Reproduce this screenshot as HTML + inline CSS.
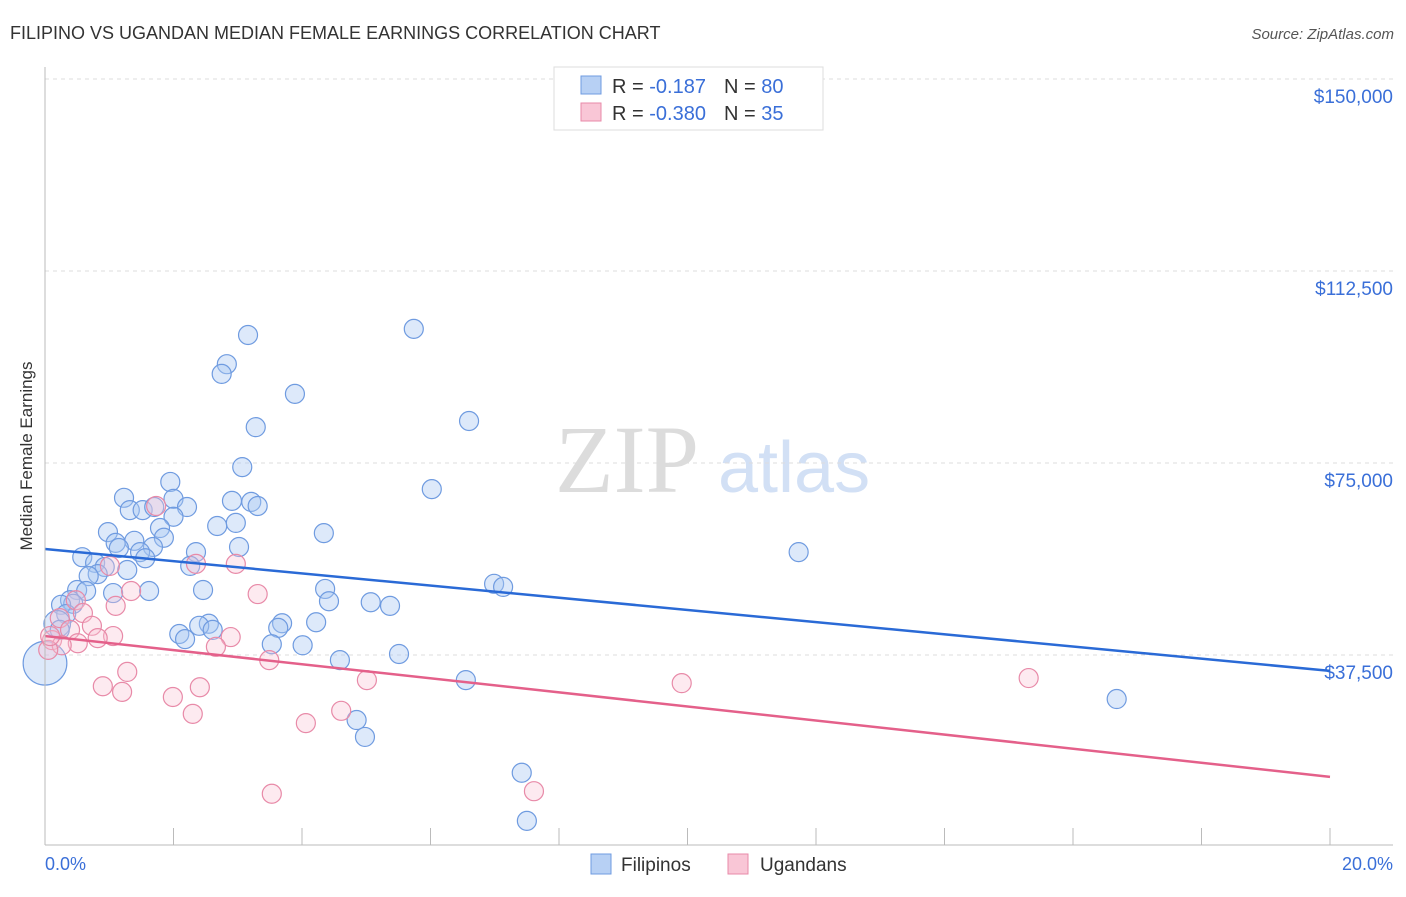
<!DOCTYPE html>
<html><head><meta charset="utf-8"><style>
body{margin:0;background:#fff;font-family:"Liberation Sans",sans-serif}
</style></head><body>
<svg id="c" width="1406" height="892" xmlns="http://www.w3.org/2000/svg" style="font-family:'Liberation Sans',sans-serif">
<text x="10" y="39" font-size="18" fill="#333">FILIPINO VS UGANDAN MEDIAN FEMALE EARNINGS CORRELATION CHART</text>
<text x="1394" y="39" font-size="15" fill="#555" text-anchor="end" font-style="italic">Source: ZipAtlas.com</text>
<text x="555" y="492" font-size="96" fill="#dcdcdc" font-family="Liberation Serif,serif">ZIP</text>
<text x="718" y="492" font-size="72" fill="#d2e0f5">atlas</text>
<g id="grid"></g><g id="pts"></g><g id="lines"></g>
<line x1="45" y1="67" x2="45" y2="845" stroke="#bbb"/>
<line x1="45" y1="845" x2="1393" y2="845" stroke="#bbb"/>
<text x="32" y="456" font-size="17" fill="#333" text-anchor="middle" transform="rotate(-90 32 456)">Median Female Earnings</text>
<text x="45" y="870" font-size="18" fill="#3a6fd8">0.0%</text>
<text x="1393" y="870" font-size="18" fill="#3a6fd8" text-anchor="end">20.0%</text>
<g>
<rect x="554" y="67" width="269" height="63" fill="#fff" stroke="#ddd"/>
<rect x="581" y="76" width="20" height="18" fill="#b7d0f4" stroke="#6f9be0"/>
<rect x="581" y="103" width="20" height="18" fill="#f9c6d6" stroke="#e88aa8"/>
<text x="612" y="93" font-size="20" fill="#333">R = <tspan fill="#3a6fd8">-0.187</tspan><tspan dx="18">N = </tspan><tspan fill="#3a6fd8">80</tspan></text>
<text x="612" y="120" font-size="20" fill="#333">R = <tspan fill="#3a6fd8">-0.380</tspan><tspan dx="18">N = </tspan><tspan fill="#3a6fd8"> 35</tspan></text>
</g>
<g>
<rect x="591" y="854" width="20" height="20" fill="#b7d0f4" stroke="#6f9be0"/>
<text x="621" y="871" font-size="19" fill="#333">Filipinos</text>
<rect x="728" y="854" width="20" height="20" fill="#f9c6d6" stroke="#e88aa8"/>
<text x="760" y="871" font-size="19" fill="#333">Ugandans</text>
</g>
</svg>
<script>
const yTicks=[37500,75000,112500,150000];
const yTickLabels=["$37,500","$75,000","$112,500","$150,000"];
const xTicks=[0,2,4,6,8,10,12,14,16,18,20];
const blueX=[3.16,5.74,2.83,2.75,3.89,3.28,6.60,3.07,6.02,1.95,1.23,2.00,2.91,3.21,3.31,1.32,1.52,1.70,2.21,2.00,2.97,2.68,1.79,0.98,1.85,4.34,1.10,1.39,1.15,1.68,3.02,1.48,2.35,0.58,1.56,11.73,0.78,2.26,0.93,1.28,0.82,0.68,6.99,7.13,4.36,0.50,0.64,1.62,2.46,1.06,0.39,4.42,0.44,5.07,5.37,0.25,0.33,4.22,3.69,2.55,2.40,3.63,2.61,2.09,2.18,0.19,0.23,3.53,4.01,5.51,4.59,0.0,6.55,16.68,4.85,4.98,7.42,7.50];
const blueY=[100.0,101.2,94.3,92.4,88.5,82.0,83.2,74.2,69.9,71.3,68.2,68.0,67.6,67.4,66.6,65.8,65.8,66.4,66.4,64.5,63.3,62.7,62.3,61.5,60.4,61.3,59.4,59.8,58.4,58.6,58.6,57.6,57.6,56.6,56.4,57.6,55.5,54.9,54.7,54.1,53.3,52.9,51.4,50.8,50.4,50.2,50.0,50.0,50.2,49.6,48.2,48.0,47.5,47.8,47.1,47.3,45.5,43.9,43.7,43.6,43.2,42.8,42.4,41.6,40.6,43.6,42.4,39.6,39.4,37.7,36.5,35.9,32.6,28.9,24.8,21.5,14.5,5.1];
const blueSize=blueX.map((x,i)=> i===71?2.3:(i===65?1.4:1));
const pinkX=[1.73,2.35,2.97,1.01,1.34,3.31,0.48,1.10,0.59,0.23,0.73,0.39,1.06,0.82,2.89,0.11,0.51,0.26,2.66,0.05,3.49,1.28,5.01,15.31,9.91,0.90,2.41,1.20,1.99,4.61,2.30,4.06,7.61,3.53,0.08];
const pinkY=[66.6,55.3,55.3,54.9,50.0,49.4,48.2,47.1,45.7,44.7,43.2,42.4,41.2,40.8,41.0,40.4,39.8,39.4,39.1,38.5,36.5,34.2,32.6,33.0,32.0,31.4,31.2,30.3,29.3,26.6,26.0,24.2,10.9,10.4,41.2];
const blueTrend=[58.2,34.4];
const pinkTrend=[41.2,13.7];
const NS="http://www.w3.org/2000/svg";
const X=v=>45+v/20*1285, Y=v=>847-v/37500*192, Yk=v=>Y(v*1000);
function mk(t,a,p){const e=document.createElementNS(NS,t);for(const k in a)e.setAttribute(k,a[k]);document.getElementById(p).appendChild(e);return e;}
yTicks.forEach((t,i)=>{
 const l=mk('line',{x1:45,x2:1393,y1:Y(t),y2:Y(t),stroke:'#ddd','stroke-dasharray':'4,4'},'grid');
 
 
 const tx=mk('text',{x:1393,y:Y(t)+24,'font-size':19,fill:'#3a6fd8','text-anchor':'end'},'grid');
 tx.textContent=yTickLabels[i];
 
 
});
xTicks.forEach(t=>{
 const l=mk('line',{x1:X(t),x2:X(t),y1:828,y2:845,stroke:'#bbb'},'grid');
 
 
});
blueX.forEach((x,i)=>{
 const c=mk('circle',{cx:X(x),cy:Yk(blueY[i]),r:9.5*blueSize[i],fill:'rgba(170,200,242,0.4)',stroke:'#6f9be0','stroke-width':1.2},'pts');
 
 
});
pinkX.forEach((x,i)=>{
 const c=mk('circle',{cx:X(x),cy:Yk(pinkY[i]),r:9.5,fill:'rgba(248,195,212,0.35)',stroke:'#e88aa8','stroke-width':1.2},'pts');
 
 
});
const bl=mk('line',{x1:X(0),y1:Yk(blueTrend[0]),x2:X(20),y2:Yk(blueTrend[1]),stroke:'#2a6ad6','stroke-width':2.5},'lines');


const pl=mk('line',{x1:X(0),y1:Yk(pinkTrend[0]),x2:X(20),y2:Yk(pinkTrend[1]),stroke:'#e4608a','stroke-width':2.5},'lines');


</script>
</body></html>
